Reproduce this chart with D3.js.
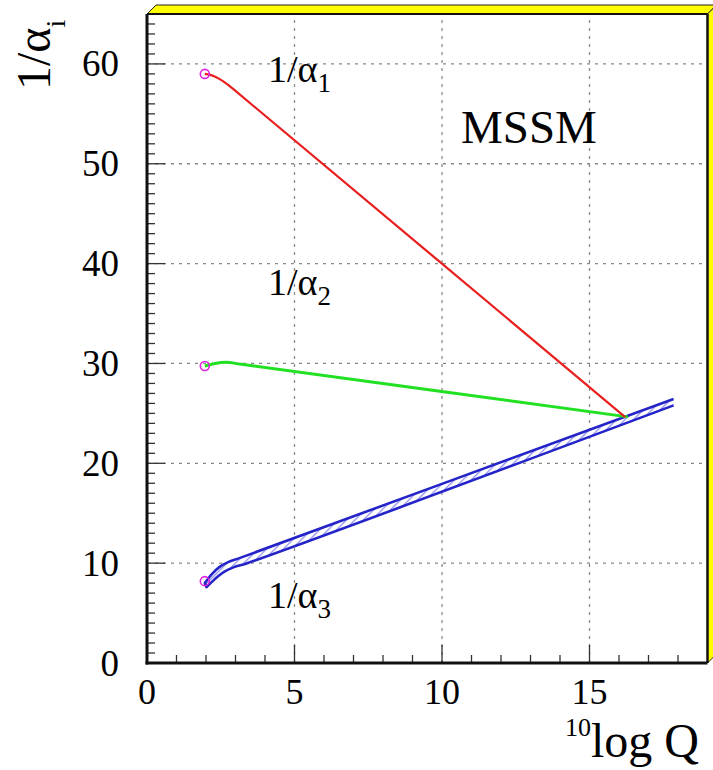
<!DOCTYPE html>
<html>
<head>
<meta charset="utf-8">
<script src="https://cdn.jsdelivr.net/npm/d3@7"></script>
<style>
  html, body { margin: 0; padding: 0; background: #fff; }
  svg { display: block; }
  text { font-family: "Liberation Serif", "DejaVu Serif", serif; fill: #000; }
</style>
</head>
<body>
<svg id="chart" width="713" height="770"></svg>
<script>
// ---- data (x = 10log Q, y = 1/alpha_i) ----
const xTickValues = [0, 5, 10, 15];
const yTickValues = [0, 10, 20, 30, 40, 50, 60];
const alpha1Curve = [[1.96, 59.0], [2.2, 58.85], [2.45, 58.5], [2.75, 57.9], [3.1, 57.05], [16.2, 24.65]];
const alpha2Curve = [[1.96, 29.75], [2.3, 30.0], [2.7, 30.12], [3.2, 29.92], [16.3, 24.65]];
const alpha3Upper = [[1.96, 8.0], [2.2, 8.9], [2.45, 9.6], [2.75, 10.1], [3.2, 10.58], [17.85, 26.45]];
const alpha3Lower = [[2.02, 7.6], [2.3, 8.4], [2.6, 9.1], [2.95, 9.6], [3.4, 10.0], [17.85, 25.8]];
const startPoints = [[1.96, 59.0], [1.96, 29.75], [1.96, 8.2]];
const curveLabels = [
  { x: 268, y: 82, main: "1/α", sub: "1" },
  { x: 268, y: 295, main: "1/α", sub: "2" },
  { x: 268, y: 608, main: "1/α", sub: "3" }
];

const svg = d3.select("#chart");
const x = d3.scaleLinear().domain([0, 19]).range([147, 707.5]);
const y = d3.scaleLinear().domain([0, 65]).range([663, 14]);
const X0 = x.range()[0], X1 = x.range()[1], Y0 = y.range()[0], Y1 = y.range()[1];

// hatch pattern
const defs = svg.append("defs");
const pat = defs.append("pattern").attr("id", "hatch").attr("patternUnits", "userSpaceOnUse")
  .attr("width", 6).attr("height", 6).attr("patternTransform", "rotate(45)");
pat.append("rect").attr("width", 6).attr("height", 6).attr("fill", "#ffffff");
pat.append("line").attr("x1", 0).attr("y1", 0).attr("x2", 0).attr("y2", 6)
  .attr("stroke", "#8c8cf0").attr("stroke-width", 2.5);

// 3D yellow frame border (top and right)
svg.append("polygon")
  .attr("points", `${X0},${Y1} ${X0 + 9},${Y1 - 9} ${X1 + 9},${Y1 - 9} ${X1},${Y1}`)
  .attr("fill", "#ffff00").attr("stroke", "#222").attr("stroke-width", 1);
svg.append("polygon")
  .attr("points", `${X1},${Y1} ${X1 + 9},${Y1 - 9} ${X1 + 9},${Y0 - 9} ${X1},${Y0}`)
  .attr("fill", "#ffff00").attr("stroke", "#222").attr("stroke-width", 1);

// frame background
svg.append("rect").attr("x", X0).attr("y", Y1).attr("width", X1 - X0).attr("height", Y0 - Y1).attr("fill", "#fff");

// grid
const grid = svg.append("g").attr("stroke", "#8a8a8a").attr("stroke-width", 1.3).attr("stroke-dasharray", "3,5");
grid.selectAll(".gx").data(xTickValues.filter(d => d > 0)).enter().append("line")
  .attr("x1", d => x(d)).attr("x2", d => x(d)).attr("y1", Y0).attr("y2", Y1);
grid.selectAll(".gy").data(yTickValues.filter(d => d > 0)).enter().append("line")
  .attr("y1", d => y(d)).attr("y2", d => y(d)).attr("x1", X0).attr("x2", X1);

// ticks
const minorX = d3.range(1, 19);
const minorY = d3.range(1, 65);
const ticks = svg.append("g").attr("stroke", "#333").attr("stroke-width", 1.3);
ticks.selectAll(".tx").data(minorX).enter().append("line")
  .attr("x1", d => x(d)).attr("x2", d => x(d)).attr("y1", Y0).attr("y2", d => Y0 - (d % 5 === 0 ? 18 : 8));
ticks.selectAll(".ty").data(minorY).enter().append("line")
  .attr("y1", d => y(d)).attr("y2", d => y(d)).attr("x1", X0).attr("x2", d => X0 + (d % 10 === 0 ? 18 : 8));

// frame lines
svg.append("line").attr("x1", X0).attr("x2", X1).attr("y1", Y1).attr("y2", Y1).attr("stroke", "#111").attr("stroke-width", 2);
svg.append("line").attr("x1", X1).attr("x2", X1).attr("y1", Y1).attr("y2", Y0).attr("stroke", "#111").attr("stroke-width", 2.5);
svg.append("line").attr("x1", X0).attr("x2", X0).attr("y1", Y1).attr("y2", Y0 + 1.5).attr("stroke", "#111").attr("stroke-width", 3);
svg.append("line").attr("x1", X0 - 1.5).attr("x2", X1).attr("y1", Y0).attr("y2", Y0).attr("stroke", "#111").attr("stroke-width", 3);

// tick labels
svg.append("g").selectAll("text").data(xTickValues).enter().append("text")
  .attr("x", d => x(d)).attr("y", 704).attr("text-anchor", "middle")
  .attr("font-size", 36).text(d => d);
svg.append("g").selectAll("text").data(yTickValues).enter().append("text")
  .attr("x", 119).attr("y", d => y(d) + 12.5).attr("text-anchor", "end")
  .attr("font-size", 37).text(d => d);

// axis titles
const yt = svg.append("text").attr("transform", "translate(50,90) rotate(-90)").attr("font-size", 48);
yt.append("tspan").text("1/α");
yt.append("tspan").attr("font-size", 28).attr("dy", 15).text("i");

const xt = svg.append("text").attr("x", 565).attr("y", 736);
xt.append("tspan").attr("font-size", 26).text("10");
xt.append("tspan").attr("font-size", 48).attr("dy", 21).text("log Q");

// curves
const lineGen = d3.line().x(d => x(d[0])).y(d => y(d[1])).curve(d3.curveCatmullRom.alpha(0.5));

// alpha3 band
const bandPath = lineGen(alpha3Upper) + "L" + lineGen(alpha3Lower.slice().reverse()).slice(1) + "Z";
svg.append("path").attr("d", bandPath).attr("fill", "url(#hatch)").attr("stroke", "none");
svg.append("path").attr("d", lineGen(alpha3Upper)).attr("fill", "none").attr("stroke", "#2424c8").attr("stroke-width", 2.6);
svg.append("path").attr("d", lineGen(alpha3Lower)).attr("fill", "none").attr("stroke", "#2424c8").attr("stroke-width", 2.6);
svg.append("line")
  .attr("x1", x(alpha3Upper[0][0])).attr("y1", y(alpha3Upper[0][1]))
  .attr("x2", x(alpha3Lower[0][0])).attr("y2", y(alpha3Lower[0][1]))
  .attr("stroke", "#2424c8").attr("stroke-width", 2.6).attr("stroke-linecap", "round");

svg.append("path").attr("d", lineGen(alpha2Curve)).attr("fill", "none").attr("stroke", "#22e022").attr("stroke-width", 3);
svg.append("path").attr("d", lineGen(alpha1Curve)).attr("fill", "none").attr("stroke", "#e82020").attr("stroke-width", 2.2);

// start markers
svg.append("g").selectAll("circle").data(startPoints).enter().append("circle")
  .attr("cx", d => x(d[0])).attr("cy", d => y(d[1])).attr("r", 4.5)
  .attr("fill", "none").attr("stroke", "#e020e0").attr("stroke-width", 1.6);

// labels
curveLabels.forEach(l => {
  const t = svg.append("text").attr("x", l.x).attr("y", l.y).attr("font-size", 38);
  t.append("tspan").text(l.main);
  t.append("tspan").attr("font-size", 27).attr("dy", 10).text(l.sub);
});
svg.append("text").attr("x", 461).attr("y", 143).attr("font-size", 47).text("MSSM");
</script>
</body>
</html>
